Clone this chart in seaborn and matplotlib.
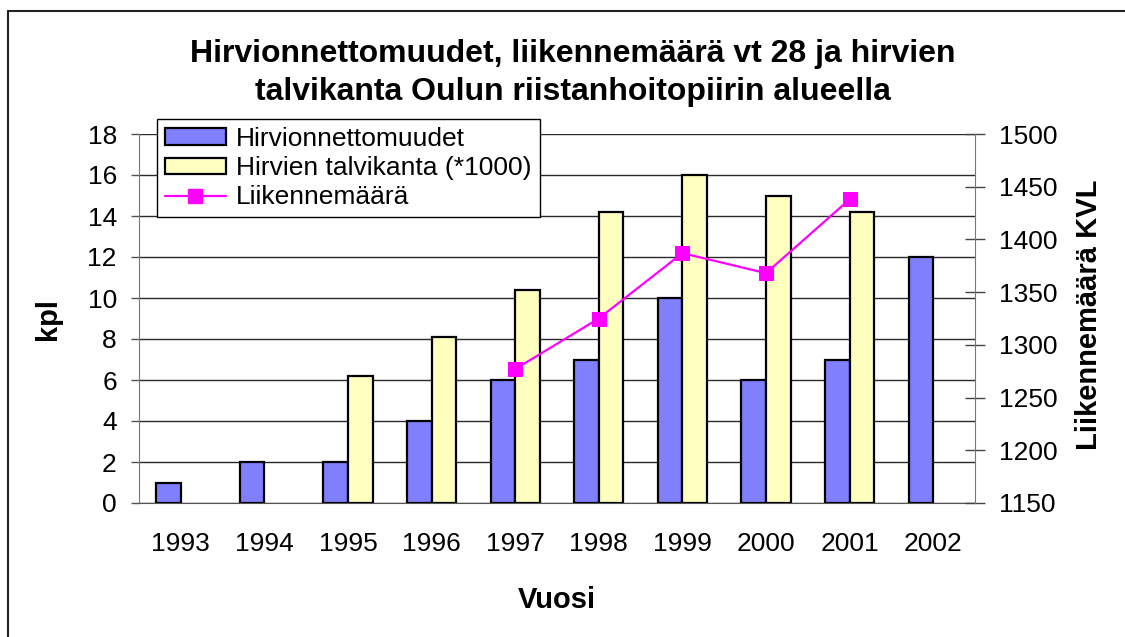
import pandas as pd
import matplotlib.pyplot as plt
import seaborn as sns
from matplotlib.lines import Line2D
from matplotlib.patches import Patch

# data
years = [1993, 1994, 1995, 1996, 1997, 1998, 1999, 2000, 2001, 2002]
accidents = [1, 2, 2, 4, 6, 7, 10, 6, 7, 12]
moose_winter = [None, None, 6.2, 8.1, 10.4, 14.2, 16.0, 15.0, 14.2, None]
traffic_years = [1997, 1998, 1999, 2000, 2001]
traffic = [1277, 1325, 1387, 1368, 1438]

s_acc = 'Hirvionnettomuudet'
s_moose = 'Hirvien talvikanta (*1000)'
s_traffic = 'Liikennemäärä'

df = pd.DataFrame({
    'Vuosi': [str(y) for y in years] * 2,
    'arvo': accidents + moose_winter,
    'sarja': [s_acc] * len(years) + [s_moose] * len(years),
}).dropna()

sns.set_style('white')
plt.rcParams['font.family'] = ['Liberation Sans', 'DejaVu Sans']
plt.rcParams.update({'text.color': 'black', 'axes.labelcolor': 'black',
                     'xtick.labelcolor': 'black', 'ytick.labelcolor': 'black'})

fig = plt.figure(figsize=(11.25, 6.37), dpi=100)
ax = fig.add_axes([139 / 1125, 1 - 503 / 637, 836 / 1125, 369 / 637])

colors = {s_acc: '#8080FF', s_moose: '#FFFFC0'}
sns.barplot(data=df, x='Vuosi', y='arvo', hue='sarja', hue_order=[s_acc, s_moose],
            order=[str(y) for y in years], palette=colors, saturation=1,
            width=0.59, edgecolor='black', linewidth=1.6, ax=ax)
ax.get_legend().remove()

ax.set_ylim(0, 18)
ax.set_yticks(range(0, 19, 2))
ax.set_xlim(-0.5, len(years) - 0.5)
ax.set_axisbelow(True)
ax.grid(axis='y', color='#2a2a2a', linewidth=1)
ax.set_xticks([i + 0.5 for i in range(-1, len(years))], minor=True)
ax.tick_params(axis='x', which='major', length=0, pad=21, labelsize=19)
ax.tick_params(axis='x', which='minor', length=6, width=1, color='#555555', direction='out')
ax.tick_params(axis='y', length=6, width=1, color='#555555', direction='out', pad=10,
               labelsize=19, left=True)
ax.spines['top'].set_visible(False)
ax.spines['right'].set_visible(False)
ax.spines['left'].set_color('#777777')
ax.spines['bottom'].set_color('#555555')

ax.set_ylabel('kpl', fontsize=21, fontweight='bold', va='center')
ax.yaxis.set_label_coords(-0.109, 0.5)
ax.set_xlabel('Vuosi', fontsize=21, fontweight='bold', va='center')
ax.xaxis.set_label_coords(0.5, -0.263)

# traffic volume on the secondary axis
ax2 = ax.twinx()
pos = [years.index(y) for y in traffic_years]
sns.lineplot(x=pos, y=traffic, ax=ax2, color='#FF00FF', linewidth=1.6,
             marker='s', markersize=9.5, markeredgecolor='#FF00FF')
ax2.set_ylim(1150, 1500)
ax2.set_yticks(range(1150, 1501, 50))
ax2.tick_params(axis='y', direction='inout', length=14, width=1, color='#444444',
                pad=10, labelsize=19, right=True)
for side in ['top', 'left', 'bottom']:
    ax2.spines[side].set_visible(False)
ax2.spines['right'].set_color('#777777')
ax2.set_ylabel('Liikennemäärä KVL', fontsize=21, fontweight='bold', va='center')
ax2.yaxis.set_label_coords(1.136, 0.51)

handles = [
    Patch(facecolor=colors[s_acc], edgecolor='black', linewidth=1.6),
    Patch(facecolor=colors[s_moose], edgecolor='black', linewidth=1.6),
    Line2D([], [], color='#FF00FF', linewidth=1.6, marker='s', markersize=9.5),
]
leg = fig.legend(handles, [s_acc, s_moose, s_traffic], loc='upper left',
                 bbox_to_anchor=(157 / 1125, 1 - 119 / 637), borderaxespad=0,
                 fontsize=19, frameon=True, fancybox=False, framealpha=1,
                 handlelength=2.3, handleheight=0.6, handletextpad=0.4,
                 labelspacing=0.2, borderpad=0.3)
leg.get_frame().set_edgecolor('black')
leg.get_frame().set_linewidth(1)

fig.text(573 / 1125, 1 - 73 / 637,
         'Hirvionnettomuudet, liikennemäärä vt 28 ja hirvien\ntalvikanta Oulun riistanhoitopiirin alueella',
         ha='center', va='center', fontsize=23, fontweight='bold', linespacing=1.33)

# chart border (left and top edges visible)
fig.add_artist(Line2D([8 / 1125, 8 / 1125], [0, 1 - 11 / 637], transform=fig.transFigure,
                      color='#222222', linewidth=1.5))
fig.add_artist(Line2D([8 / 1125, 1], [1 - 11 / 637, 1 - 11 / 637], transform=fig.transFigure,
                      color='#222222', linewidth=1.5))

fig.savefig('out.png', dpi=100)
